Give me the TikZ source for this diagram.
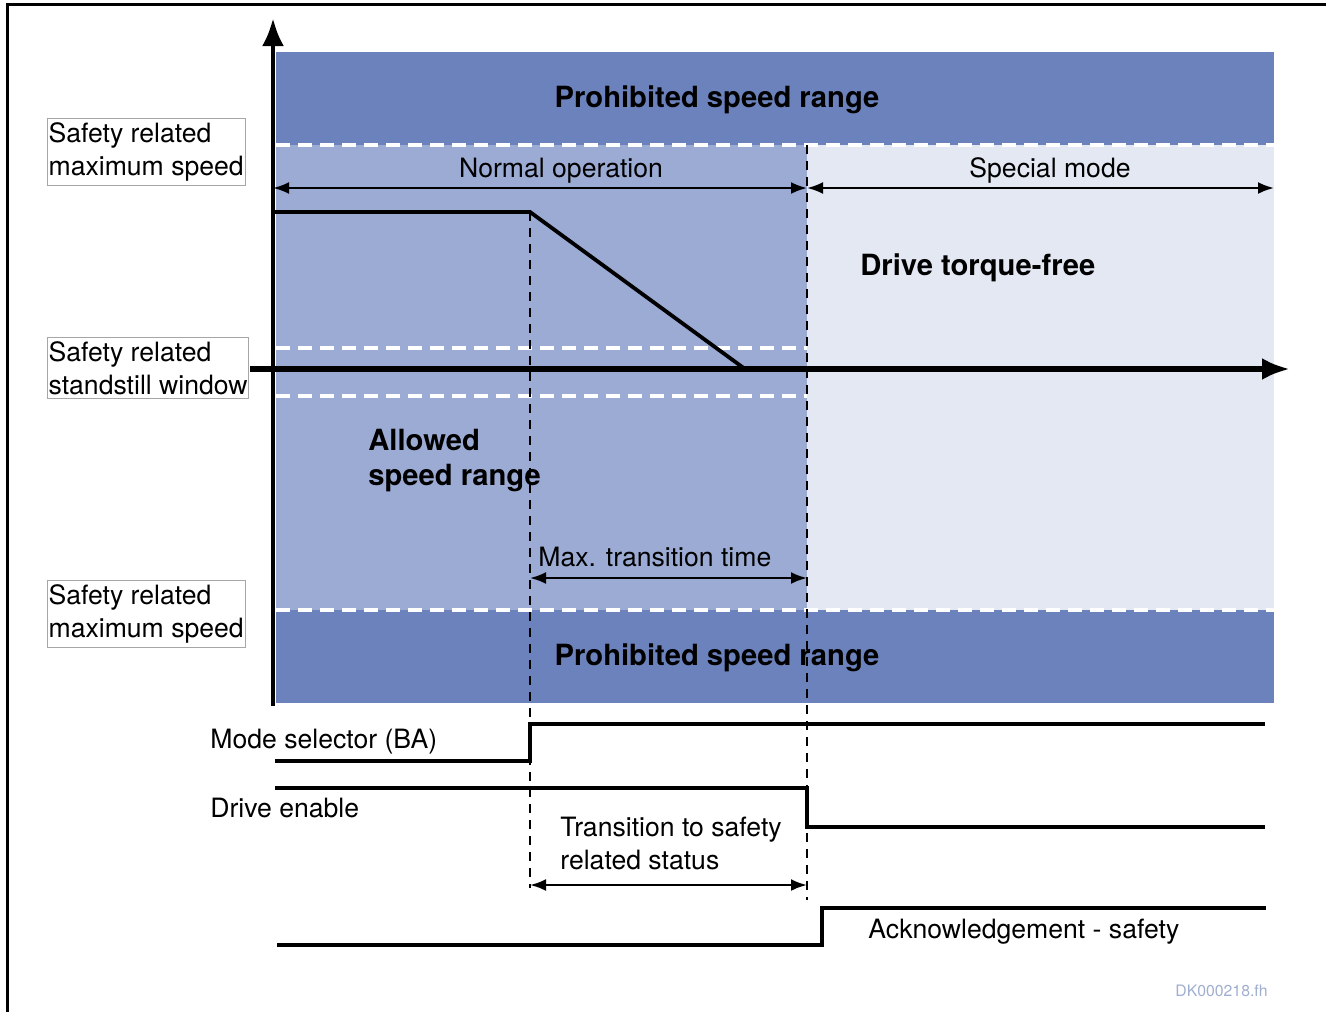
\documentclass[tikz,border=0pt]{standalone}
\usepackage{fontspec}
\setmainfont{TeX Gyre Heros}
\usetikzlibrary{arrows.meta}
\definecolor{prohib}{RGB}{107,130,188}
\definecolor{normal}{RGB}{156,171,212}
\definecolor{special}{RGB}{228,232,243}
\definecolor{tagblue}{RGB}{160,174,207}
\newcommand\lbl{\fontsize{13.3}{16.5}\selectfont}
\newcommand\blbl{\fontsize{14.6}{17.5}\selectfont\bfseries}
\begin{document}
\begin{tikzpicture}[x=0.5pt,y=-0.5pt,
	wdash/.style={white,line width=1.7pt,dash pattern=on 7pt off 4pt},
	bdash/.style={black,line width=1.1pt,dash pattern=on 4.5pt off 3.5pt},
	dim/.style={{Latex[length=8pt,width=6pt]}-{Latex[length=8pt,width=6pt]},line width=1.2pt},
	sig/.style={line width=1.9pt},
	txt/.style={font=\lbl,inner sep=0pt,align=left},
	bold/.style={font=\blbl,inner sep=0pt,align=left},
	tag/.style={txt,draw=gray!70,fill=white,line width=0.4pt,inner xsep=0.6pt,inner ysep=2pt,anchor=north west}]
	\useasboundingbox (0,0) rectangle (1326,1012);
	% frame
	\draw[line width=1.5pt] (7.5,1012) -- (7.5,4.5) -- (1326,4.5);
	% speed ranges
	\fill[prohib] (276,52) rectangle (1274,145);
	\fill[normal] (276,145) rectangle (807,610);
	\fill[special] (807,145) rectangle (1274,610);
	\fill[prohib] (276,610) rectangle (1274,703);
	\foreach \y in {145,610}
		\draw[wdash] (276,\y) -- (1274,\y);
	\foreach \y in {348,396}
		\draw[wdash] (276,\y) -- (807,\y);
	% time markers
	\coordinate (t1) at (530,212);
	\coordinate (t2) at (807,145);
	\draw[bdash] (t1) -- (530,888);
	\draw[bdash] (t2) -- (807,900);
	% axes
	\draw[line width=2.4pt,-{Latex[length=14pt,width=11pt]}] (273,706) -- (273,18);
	\draw[line width=2.8pt,-{Latex[length=14pt,width=11pt]}] (250,369) -- (1290,369);
	% speed
	\draw[sig] (273,212) -- (t1) -- (745,369);
	% dimensions
	\draw[dim] (273,188) -- (807,188);
	\draw[dim] (807,188) -- (1274,188);
	\draw[dim] (530,578) -- (807,578);
	\draw[dim] (530,885) -- (807,885);
	% signals
	\draw[sig] (275,761) -- (530,761) -- (530,724) -- (1265,724);
	\draw[sig] (275,788) -- (807,788) -- (807,827) -- (1265,827);
	\draw[sig] (277,945) -- (822,945) -- (822,908) -- (1266,908);
	% texts
	\node[bold,anchor=base] (pr1) at (717,107) {Prohibited speed range};
	\node[bold,anchor=base] (pr2) at (717,665) {Prohibited speed range};
	\node[txt,anchor=base] (no) at (561,177) {Normal operation};
	\node[txt,anchor=base] (sm) at (1050,177) {Special mode};
	\node[bold,anchor=base west] (tf) at (860,275) {Drive torque-free};
	\node[bold,anchor=north west] (al) at (368,429) {Allowed\\speed range};
	\node[txt,anchor=base west] (mt) at (538,566) {Max. transition time};
	\node[tag] (vmax1) at (47,118) {Safety related\\maximum speed};
	\node[tag] (vst) at (47,337) {Safety related\\standstill window};
	\node[tag] (vmax2) at (47,580) {Safety related\\maximum speed};
	\node[txt,anchor=base west] (ba) at (210,748) {Mode selector (BA)};
	\node[txt,anchor=base west] (de) at (210,817) {Drive enable};
	\node[txt,anchor=north west] (ts) at (560,817) {Transition to safety\\related status};
	\node[txt,anchor=base west] (ack) at (868,938) {Acknowledgement - safety};
	\node[txt,anchor=base east,font=\fontsize{7.9}{9}\selectfont,text=tagblue] (id) at (1268,996) {DK000218.fh};
\end{tikzpicture}
\end{document}
